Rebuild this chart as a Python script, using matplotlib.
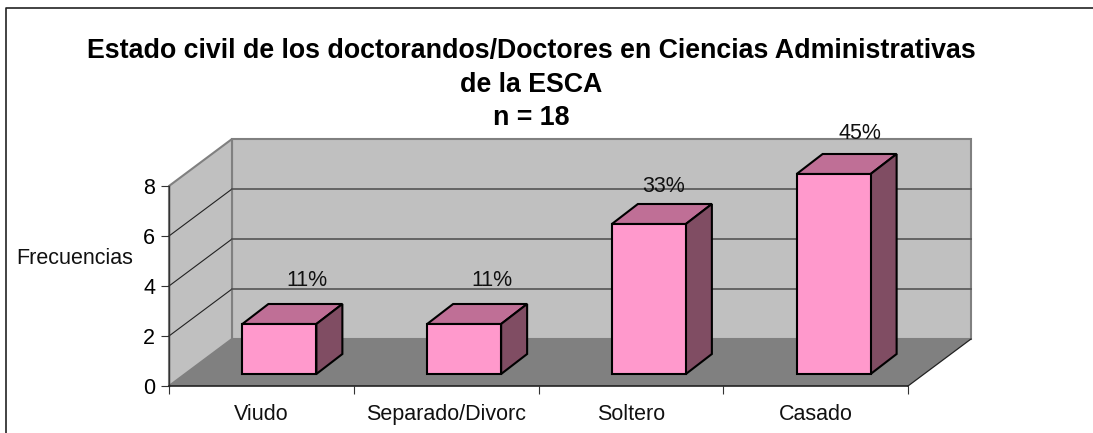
import matplotlib
matplotlib.use('Agg')
from matplotlib import pyplot as plt
from matplotlib.patches import Polygon

categories = ['Viudo', 'Separado/Divorc', 'Soltero', 'Casado']
values = [2, 2, 6, 8]
labels = ['11%', '11%', '33%', '45%']
yticks = [0, 2, 4, 6, 8]
title_lines = ['Estado civil de los doctorandos/Doctores en Ciencias Administrativas', 'de la ESCA', 'n = 18']

W, H = 1093, 433
plt.rcParams['font.family'] = ['Liberation Sans', 'DejaVu Sans']

fig = plt.figure(figsize=(W / 100, H / 100), dpi=100, facecolor='white')
# front plane of the fake 3d box
ax = fig.add_axes([169 / W, 1 - 386 / H, 739 / W, 200 / H])
ax.set_xlim(0, 4)
ax.set_ylim(0, 8)
ax.patch.set_visible(False)
for s in ['top', 'right']:
    ax.spines[s].set_visible(False)
ax.spines['left'].set_linewidth(1.0)
ax.spines['left'].set_color('#333333')
ax.spines['left'].set_zorder(6)
ax.spines['bottom'].set_linewidth(1.2)
ax.spines['bottom'].set_color('#222222')
ax.spines['bottom'].set_zorder(6)

# depth of the box, in data units
dx = 63 / 739 * 4
dy = 47 / 25


def face(pts, color, z=1, lw=1.5, ec='#808080'):
    ax.add_patch(Polygon(pts, closed=True, facecolor=color, edgecolor=ec, linewidth=lw, zorder=z,
                         clip_on=False, joinstyle='miter'))


# back wall, side wall, floor
face([(dx, dy), (4 + dx, dy), (4 + dx, 8 + dy), (dx, 8 + dy)], '#c0c0c0')
face([(0, 0), (dx, dy), (dx, 8 + dy), (0, 8)], '#c0c0c0')
face([(0, 0), (4, 0), (4 + dx, dy), (dx, dy)], '#808080', lw=0)
ax.plot([4, 4 + dx], [0, dy], color='#222222', lw=0.9, zorder=2, clip_on=False)

for t in yticks[1:-1]:
    ax.plot([0, dx], [t, t + dy], color='#222222', lw=0.8, zorder=2, clip_on=False)
    ax.plot([dx, 4 + dx], [t + dy, t + dy], color='#555555', lw=1.2, zorder=2, clip_on=False)

# bars
bw = 74 / 739 * 4
bdx = 26 / 739 * 4
bdy = 20 / 25
base = 12 / 25
label_shift = [0.08, 0.08, 0.01, 0.07]
label_gap = [0.5, 0.5, 0.28, 0.4]
for i, v in enumerate(values):
    x0 = i + 0.5 - bw / 2 + 18 / 739 * 4
    x1 = x0 + bw
    y0 = base
    y1 = v + base
    face([(x0, y1), (x0 + bdx, y1 + bdy), (x1 + bdx, y1 + bdy), (x1, y1)], '#bf6f96', z=3, lw=1.5, ec='black')
    face([(x1, y0), (x1 + bdx, y0 + bdy), (x1 + bdx, y1 + bdy), (x1, y1)], '#804d63', z=3, lw=1.5, ec='black')
    face([(x0, y0), (x1, y0), (x1, y1), (x0, y1)], '#ff99cc', z=4, lw=1.5, ec='black')
    ax.text((x0 + x1) / 2 + bdx / 2 + label_shift[i], y1 + bdy + label_gap[i], labels[i], ha='center', va='bottom',
            fontsize=15.5, color='#111111', zorder=5, clip_on=False)

ax.set_yticks(yticks)
ax.set_xticks(range(5))
ax.set_xticklabels([])
ax.tick_params(axis='both', length=6, width=0.8, color='#333333', labelsize=15.5, pad=4)
for i, c in enumerate(categories):
    ax.text(i + 0.5, -1.36, c, ha='center', va='baseline', fontsize=15.5, color='#111111', clip_on=False)

fig.text(16 / W, 1 - 258 / H, 'Frecuencias', ha='left', va='center', fontsize=15.5, color='#111111')
for line, ypx in zip(title_lines, [51, 85, 118]):
    fig.text(531.5 / W, 1 - ypx / H, line, ha='center', va='center', fontsize=19.3, fontweight='bold', color='black')

# chart border, only left and top reach the image
fig.add_artist(plt.Line2D([6 / W, 6 / W, 1], [0, 1 - 8 / H, 1 - 8 / H], color='#222222', lw=1.2))

fig.savefig('out.png', dpi=100)
